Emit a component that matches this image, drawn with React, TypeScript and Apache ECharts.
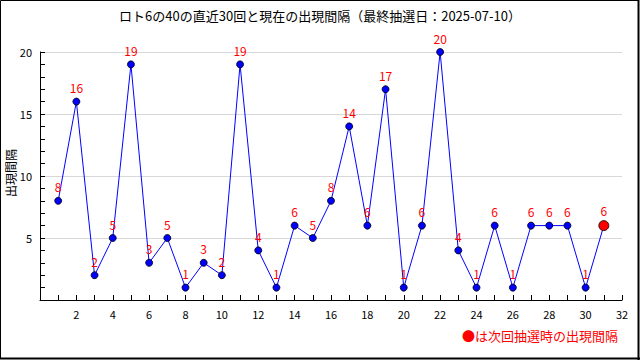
import React, { useEffect, useRef } from "react";
import * as echarts from "echarts";

const titleText = "ロト6の40の直近30回と現在の出現間隔（最終抽選日：2025-07-10）";
const yAxisName = "出現間隔";
const noteText = "●は次回抽選時の出現間隔";
const drawIndex = [1, 2, 3, 4, 5, 6, 7, 8, 9, 10, 11, 12, 13, 14, 15, 16, 17, 18, 19, 20, 21, 22, 23, 24, 25, 26, 27, 28, 29, 30, 31];
const intervals = [8, 16, 2, 5, 19, 3, 5, 1, 3, 2, 19, 4, 1, 6, 5, 8, 14, 6, 17, 1, 6, 20, 4, 1, 6, 1, 6, 6, 6, 1, 6];
const currentIndex = 31;

const FONT = "'Noto Sans CJK JP', 'DejaVu Sans', sans-serif";

export default function App() {
  const ref = useRef<HTMLDivElement>(null);
  useEffect(() => {
    document.body.style.margin = "0";
    const chart = echarts.init(ref.current!, null, { renderer: "svg" });
    const data = drawIndex.map((x, i) => {
      const isCur = x === currentIndex;
      return {
        value: [x, intervals[i]],
        symbolSize: isCur ? 10 : 7,
        itemStyle: isCur
          ? { color: "#ff0000", borderColor: "#000", borderWidth: 0.8 }
          : { color: "#0000ff", borderColor: "#000", borderWidth: 0.8 },
      };
    });
    chart.setOption({
      animation: false,
      backgroundColor: "#fff",
      textStyle: { fontFamily: FONT },
      title: {
        text: titleText,
        left: "center",
        top: 4,
        textStyle: { fontSize: 13, fontWeight: "normal", color: "#000", fontFamily: FONT },
      },
      grid: { left: 40, right: 18, top: 52, bottom: 60 },
      xAxis: {
        type: "value",
        min: 0,
        max: 32,
        interval: 2,
        axisLine: { show: true, onZero: false, lineStyle: { color: "#000", width: 1 } },
        axisTick: { show: true, inside: true, length: 5, lineStyle: { color: "#000" } },
        minorTick: { show: true, splitNumber: 2, length: 5, lineStyle: { color: "#000" } },
        axisLabel: {
          color: "#000",
          fontSize: 11,
          margin: 8,
          formatter: (v: number) => (v === 0 ? "" : String(v)),
        },
        splitLine: { show: false },
      },
      yAxis: {
        type: "value",
        min: 0,
        max: 20,
        interval: 5,
        axisLine: { show: true, onZero: false, lineStyle: { color: "#000", width: 1 } },
        axisTick: { show: true, inside: true, length: 5, lineStyle: { color: "#000" } },
        minorTick: { show: true, splitNumber: 5, length: 5, lineStyle: { color: "#000" } },
        axisLabel: {
          color: "#000",
          fontSize: 11,
          margin: 8,
          formatter: (v: number) => (v === 0 ? "" : String(v)),
        },
        splitLine: { show: true, lineStyle: { color: "#d8d8d8", width: 1 } },
      },
      series: [
        {
          type: "line",
          data,
          symbol: "circle",
          lineStyle: { color: "#0000ff", width: 1 },
          label: {
            show: true,
            position: "top",
            distance: 4,
            color: "#ff0000",
            fontSize: 12,
            fontFamily: FONT,
          },
          z: 3,
        },
      ],
      graphic: [
        {
          type: "text",
          x: 10,
          y: 173,
          rotation: Math.PI / 2,
          style: {
            text: yAxisName,
            fill: "#000",
            fontSize: 12,
            fontFamily: FONT,
            align: "center",
            verticalAlign: "middle",
          },
        },
        {
          type: "text",
          x: 618,
          y: 335,
          style: {
            text: noteText,
            fill: "#ff0000",
            fontSize: 13,
            fontFamily: FONT,
            align: "right",
            verticalAlign: "middle",
          },
        },
        {
          type: "rect",
          shape: { x: 0.5, y: 0.5, width: 638, height: 358 },
          style: { fill: "none", stroke: "#000", lineWidth: 1 },
        },
        {
          type: "line",
          shape: { x1: 638.5, y1: 0, x2: 638.5, y2: 360 },
          style: { stroke: "#000", lineWidth: 2 },
        },
        {
          type: "line",
          shape: { x1: 0, y1: 358.5, x2: 640, y2: 358.5 },
          style: { stroke: "#000", lineWidth: 2 },
        },
      ],
    });
    return () => chart.dispose();
  }, []);
  return (
    <div
      ref={ref}
      style={{ position: "absolute", left: 0, top: 0, width: 640, height: 360 }}
    />
  );
}
